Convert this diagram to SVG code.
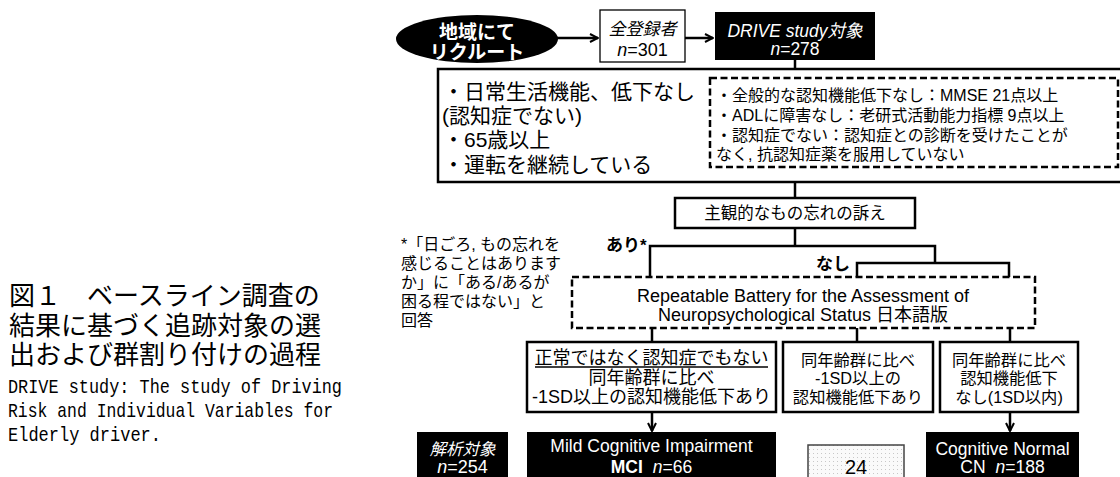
<svg xmlns="http://www.w3.org/2000/svg" width="1120" height="477" viewBox="0 0 1120 477">
<defs>
<style>
.t{font-family:'Liberation Sans','Noto Sans CJK JP',sans-serif;fill:#000}
.w{fill:#fff}
.jp{font-family:'Noto Sans CJK JP',sans-serif}
.mono{font-family:'Liberation Mono',monospace;font-size:21px}
.box{fill:#fff;stroke:#000;stroke-width:2.5}
.thin{fill:#fff;stroke:#000;stroke-width:1.3}
.dash{fill:#fff;stroke:#000;stroke-width:2.5;stroke-dasharray:7 3.5}
.blk{fill:#000}
.c{fill:none;stroke:#000;stroke-width:2.5}
.m{text-anchor:middle}
</style>
<marker id="ah" viewBox="0 0 10 10" refX="9" refY="5" markerWidth="10" markerHeight="10" markerUnits="userSpaceOnUse" orient="auto">
<path d="M1,1 L9,5 L1,9" fill="none" stroke="#000" stroke-width="2"/>
</marker>
<pattern id="dots" width="4" height="4" patternUnits="userSpaceOnUse">
<rect width="4" height="4" fill="#fafafa"/>
<rect x="1" y="1" width="1" height="1" fill="#c8c8c8"/>
</pattern>
</defs>

<g id="caption">
<text class="jp" x="9" y="305" font-size="26">図１　ベースライン調査の</text>
<text class="jp" x="9" y="335" font-size="26">結果に基づく追跡対象の選</text>
<text class="jp" x="9" y="364" font-size="26">出および群割り付けの過程</text>
<text class="mono" x="8" y="393" textLength="334" lengthAdjust="spacingAndGlyphs">DRIVE study: The study of Driving</text>
<text class="mono" x="8" y="417" textLength="325" lengthAdjust="spacingAndGlyphs">Risk and Individual Variables for</text>
<text class="mono" x="8" y="441" textLength="153" lengthAdjust="spacingAndGlyphs">Elderly driver.</text>
</g>

<g id="connectors">
<line class="c" x1="557" y1="38" x2="598" y2="38" marker-end="url(#ah)"/>
<line class="c" x1="685" y1="38" x2="713" y2="38" marker-end="url(#ah)"/>
<line class="c" x1="795" y1="60" x2="795" y2="69"/>
<line class="c" x1="795" y1="182" x2="795" y2="198"/>
<line class="c" x1="795" y1="228" x2="795" y2="246"/>
<polyline class="c" points="650,277 650,246 935,246 935,263"/>
<polyline class="c" points="857,277 857,263 1009,263 1009,277"/>
<line class="c" x1="652" y1="328" x2="652" y2="342"/>
<line class="c" x1="857" y1="328" x2="857" y2="342"/>
<line class="c" x1="1010" y1="328" x2="1010" y2="342"/>
<line class="c" x1="652" y1="412" x2="652" y2="431" marker-end="url(#ah)"/>
<line class="c" x1="1010" y1="412" x2="1010" y2="431" marker-end="url(#ah)"/>
</g>

<g id="recruit">
<ellipse cx="477" cy="39" rx="81" ry="24" class="blk"/>
<text class="t w m" x="477" y="39" font-size="19" font-weight="bold">地域にて</text>
<text class="t w m" x="477" y="59" font-size="19" font-weight="bold">リクルート</text>
</g>

<g id="enrolled">
<rect x="600" y="10" width="85" height="52" class="thin"/>
<text class="t m" x="642.5" y="35" font-size="17" font-style="italic">全登録者</text>
<text class="t m" x="642.5" y="56" font-size="18"><tspan font-style="italic">n</tspan>=301</text>
</g>

<g id="drive">
<rect x="715" y="12" width="160" height="48" class="blk"/>
<text class="t w m" x="795" y="37" font-size="17.5" font-style="italic">DRIVE study対象</text>
<text class="t w m" x="795" y="55" font-size="17.5"><tspan font-style="italic">n</tspan>=278</text>
</g>

<g id="criteria">
<rect x="438" y="69" width="700" height="113" class="box"/>
<text class="t" x="443" y="99" font-size="21">・日常生活機能、低下なし</text>
<text class="t" x="442" y="123" font-size="21">(認知症でない)</text>
<text class="t" x="443" y="147" font-size="21">・65歳以上</text>
<text class="t" x="443" y="172" font-size="21">・運転を継続している</text>
</g>

<g id="criteria-detail">
<rect x="710" y="78" width="408" height="89" class="dash"/>
<text class="t" x="716" y="101" font-size="16">・全般的な認知機能低下なし：MMSE 21点以上</text>
<text class="t" x="716" y="121" font-size="16">・ADLに障害なし：老研式活動能力指標 9点以上</text>
<text class="t" x="716" y="141" font-size="16">・認知症でない：認知症との診断を受けたことが</text>
<text class="t" x="716" y="160" font-size="16">なく, 抗認知症薬を服用していない</text>
</g>

<g id="complaint">
<rect x="675" y="198" width="240" height="30" class="box"/>
<text class="t m" x="795" y="219" font-size="16.5">主観的なもの忘れの訴え</text>
</g>

<g id="labels">
<text class="t" x="606" y="251" font-size="17" font-weight="bold">あり*</text>
<text class="t" x="816" y="270" font-size="17" font-weight="bold">なし</text>
</g>

<g id="footnote">
<text class="t" x="401" y="250" font-size="16">*「日ごろ, もの忘れを</text>
<text class="t" x="401" y="269" font-size="16">感じることはあります</text>
<text class="t" x="401" y="288" font-size="16">か」に「ある/あるが</text>
<text class="t" x="401" y="307" font-size="16">困る程ではない」と</text>
<text class="t" x="401" y="326" font-size="16">回答</text>
</g>

<g id="rbans">
<rect x="572" y="277" width="463" height="51" class="dash"/>
<text class="t m" x="803" y="302" font-size="18">Repeatable Battery for the Assessment of</text>
<text class="t m" x="803" y="321" font-size="18">Neuropsychological Status 日本語版</text>
</g>

<g id="mci-criteria">
<rect x="527" y="342" width="249" height="70" class="box"/>
<text class="t m" x="651.5" y="364" font-size="18">正常ではなく認知症でもない</text>
<line x1="535" y1="367" x2="768" y2="367" stroke="#000" stroke-width="1.3"/>
<text class="t m" x="651.5" y="384" font-size="18">同年齢群に比べ</text>
<text class="t m" x="651.5" y="403" font-size="18">-1SD以上の認知機能低下あり</text>
</g>

<g id="decline">
<rect x="783" y="342" width="150" height="70" class="box"/>
<text class="t m" x="858" y="366" font-size="16.3">同年齢群に比べ</text>
<text class="t m" x="858" y="384" font-size="16.3">-1SD以上の</text>
<text class="t m" x="858" y="403" font-size="16.3">認知機能低下あり</text>
</g>

<g id="no-decline">
<rect x="940" y="342" width="138" height="70" class="box"/>
<text class="t m" x="1009" y="366" font-size="16.3">同年齢群に比べ</text>
<text class="t m" x="1009" y="384" font-size="16.3">認知機能低下</text>
<text class="t m" x="1009" y="403" font-size="16.3">なし(1SD以内)</text>
</g>

<g id="analysis">
<rect x="417" y="432" width="91" height="50" class="blk"/>
<text class="t w m" x="462.5" y="455" font-size="16.5" font-style="italic">解析対象</text>
<text class="t w m" x="462.5" y="473" font-size="18"><tspan font-style="italic">n</tspan>=254</text>
</g>

<g id="mci">
<rect x="527" y="432" width="249" height="50" class="blk"/>
<text class="t w m" x="651.5" y="452" font-size="17.5">Mild Cognitive Impairment</text>
<text class="t w m" x="651.5" y="473" font-size="17.5"><tspan font-weight="bold">MCI</tspan><tspan dx="10" font-style="italic">n</tspan>=66</text>
</g>

<g id="excluded">
<rect x="808" y="445" width="96" height="36" fill="url(#dots)" stroke="#444" stroke-width="1.5"/>
<text class="t m" x="856" y="474" font-size="20">24</text>
</g>

<g id="cn">
<rect x="926" y="432" width="153" height="50" class="blk"/>
<text class="t w m" x="1002.5" y="455" font-size="17.5">Cognitive Normal</text>
<text class="t w m" x="1002.5" y="473" font-size="17.5">CN<tspan dx="10" font-style="italic">n</tspan>=188</text>
</g>
</svg>
